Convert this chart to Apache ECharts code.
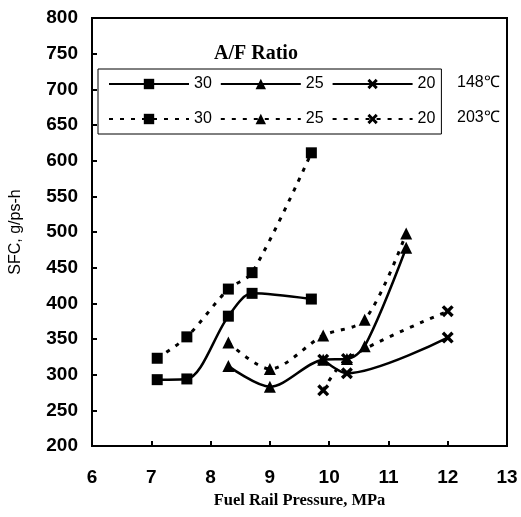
<!DOCTYPE html>
<html>
<head>
<meta charset="utf-8">
<script src="https://cdn.jsdelivr.net/npm/echarts@6/dist/echarts.min.js"></script>
<style>
  html, body { margin: 0; padding: 0; background: #fff; }
  #chart { width: 521px; height: 517px; }
</style>
</head>
<body>
<div id="chart"></div>
<script>
// SFC vs fuel rail pressure, [MPa, g/ps-h]
var afr30_148 = [[7.1, 293], [7.6, 294], [8.3, 382], [8.7, 414], [9.7, 406]]
var afr25_148 = [[8.3, 312], [9.0, 283], [9.9, 321], [10.3, 322], [10.6, 340], [11.3, 478]]
var afr20_148 = [[9.9, 321], [10.3, 302], [12.0, 352]]
var afr30_203 = [[7.1, 323], [7.6, 353], [8.3, 420], [8.7, 443], [9.7, 611]]
var afr25_203 = [[8.3, 345], [9.0, 308], [9.9, 355], [10.6, 377], [11.3, 498]]
var afr20_203 = [[9.9, 278], [10.3, 322], [12.0, 389]]
var ratios = ['30', '25', '20']
var temps = ['148℃', '203℃']

var cross = 'path://M0,2L2,0L5,3L8,0L10,2L7,5L10,8L8,10L5,7L2,10L0,8L3,5Z'
var symbols = ['rect', 'triangle', cross]
var dots = [4, 7]

function mkSeries(name, data, sym, dashed) {
  return {
    name: name,
    type: 'line',
    data: data,
    smooth: 0.3,
    symbol: sym,
    symbolSize: sym === 'rect' ? 11 : 12,
    itemStyle: { color: '#000' },
    lineStyle: {
      color: '#000',
      width: dashed ? 3 : 2.5,
      type: dashed ? dots : 'solid'
    }
  }
}

var solid = [afr30_148, afr25_148, afr20_148]
var dashed = [afr30_203, afr25_203, afr20_203]
var series = []
ratios.forEach(function (r, i) {
  series.push(mkSeries('148-' + r, solid[i], symbols[i], false))
})
ratios.forEach(function (r, i) {
  series.push(mkSeries('203-' + r, dashed[i], symbols[i], true))
})

var sans = 'Liberation Sans, Arial, sans-serif'
var serif = 'Liberation Serif, Times New Roman, serif'
var labelFont = { color: '#000', fontSize: 19, fontWeight: 'bold', fontFamily: sans }

var legendCommon = {
  orient: 'horizontal',
  itemWidth: 80,
  itemHeight: 13,
  itemGap: 8,
  selectedMode: false,
  formatter: function (n) { return n.split('-')[1] },
  textStyle: { color: '#000', fontSize: 16, fontFamily: sans }
}

var chart = echarts.init(document.getElementById('chart'))
chart.setOption({
  animation: false,
  grid: {
    left: 92, right: 14, top: 18, bottom: 71,
    show: true, borderColor: '#000', borderWidth: 2
  },
  legend: [
    Object.assign({}, legendCommon, {
      data: series.slice(0, 3).map(function (s) { return s.name }),
      left: 98, top: 69,
      padding: [7, 6, 42, 10],
      borderColor: '#000', borderWidth: 1
    }),
    Object.assign({}, legendCommon, {
      data: series.slice(3).map(function (s) { return s.name }),
      left: 108, top: 111,
      padding: 0
    })
  ],
  graphic: [
    { type: 'text', left: 214, top: 44, style: { text: 'A/F Ratio', fill: '#000', font: 'bold 20px ' + serif } },
    { type: 'text', left: 457, top: 75, style: { text: temps[0], fill: '#000', font: '16px ' + sans } },
    { type: 'text', left: 457, top: 110, style: { text: temps[1], fill: '#000', font: '16px ' + sans } }
  ],
  xAxis: {
    type: 'value',
    min: 6, max: 13, interval: 1,
    name: 'Fuel Rail Pressure, MPa',
    nameLocation: 'middle',
    nameGap: 33,
    nameTextStyle: { color: '#000', fontSize: 16.5, fontWeight: 'bold', fontFamily: serif },
    axisLine: { lineStyle: { color: '#000', width: 2 } },
    axisTick: { inside: true, length: 5, lineStyle: { color: '#000', width: 2 } },
    axisLabel: Object.assign({ margin: 22 }, labelFont),
    splitLine: { show: false }
  },
  yAxis: {
    type: 'value',
    min: 200, max: 800, interval: 50,
    name: 'SFC, g/ps-h',
    nameLocation: 'middle',
    nameGap: 68,
    nameTextStyle: { color: '#000', fontSize: 16, fontFamily: sans },
    axisLine: { show: true, lineStyle: { color: '#000', width: 2 } },
    axisTick: { show: true, inside: true, length: 5, lineStyle: { color: '#000', width: 2 } },
    axisLabel: Object.assign({ margin: 14 }, labelFont),
    splitLine: { show: false }
  },
  series: series
})
</script>
</body>
</html>
